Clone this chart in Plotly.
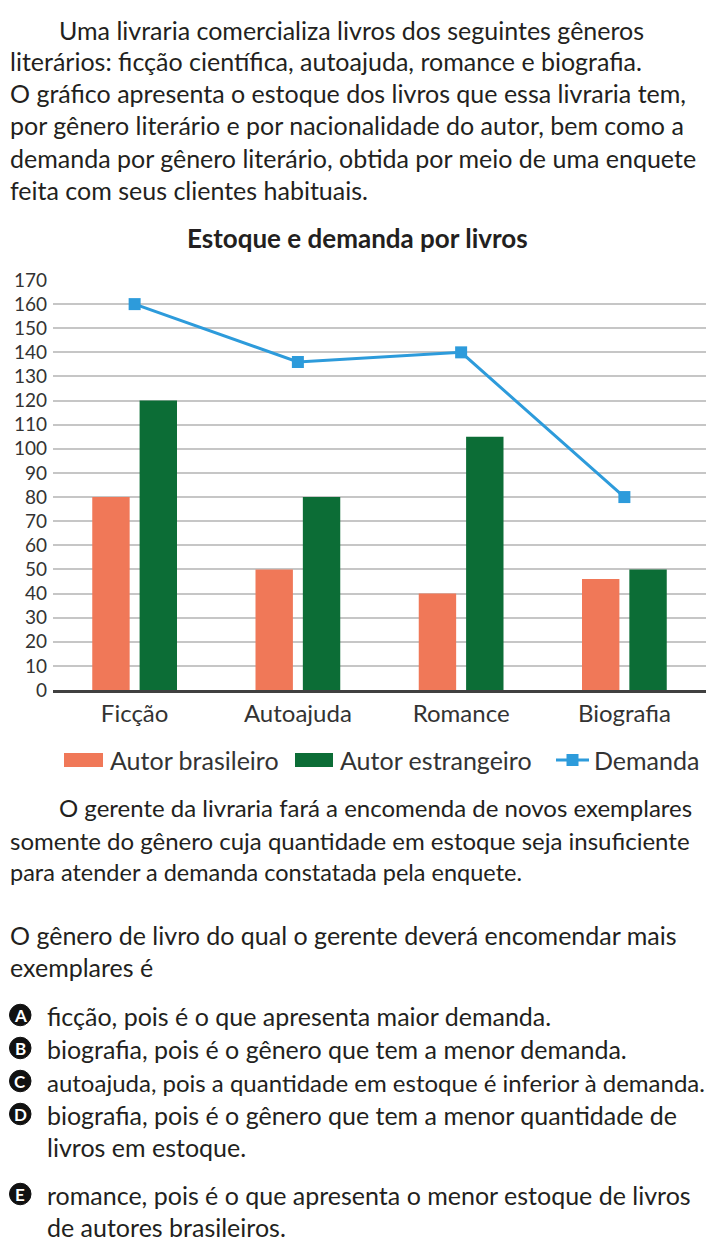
import plotly.graph_objects as go

# a página tem margem de 8px no body: a figura ocupa 8..706 x 8..1248
W, H = 698, 1240
OFF = 8

generos = ["Ficção", "Autoajuda", "Romance", "Biografia"]
autor_brasileiro = [80, 50, 40, 46]
autor_estrangeiro = [120, 80, 105, 50]
demanda = [160, 136, 140, 80]
y_ticks = list(range(0, 171, 10))

# (x, y, texto, tamanho da fonte)
texto = [
    (57, 30, "Uma livraria comercializa livros dos seguintes gêneros", 25),
    (8, 61, "literários: ficção científica, autoajuda, romance e biografia.", 25),
    (8, 93, "O gráfico apresenta o estoque dos livros que essa livraria tem,", 25),
    (8, 125, "por gênero literário e por nacionalidade do autor, bem como a", 25),
    (8, 158, "demanda por gênero literário, obtida por meio de uma enquete", 25),
    (8, 190, "feita com seus clientes habituais.", 25),
    (57, 807, "O gerente da livraria fará a encomenda de novos exemplares", 24),
    (8, 840, "somente do gênero cuja quantidade em estoque seja insuficiente", 24),
    (8, 872, "para atender a demanda constatada pela enquete.", 23.5),
    (8, 935, "O gênero de livro do qual o gerente deverá encomendar mais", 25),
    (8, 967, "exemplares é", 25),
]

opcoes = [
    ("A", 1016, ["ficção, pois é o que apresenta maior demanda."], 25),
    ("B", 1049, ["biografia, pois é o gênero que tem a menor demanda."], 25),
    ("C", 1082, ["autoajuda, pois a quantidade em estoque é inferior à demanda."], 24),
    ("D", 1115, ["biografia, pois é o gênero que tem a menor quantidade de",
                 "livros em estoque."], 25),
    ("E", 1195, ["romance, pois é o que apresenta o menor estoque de livros",
                 "de autores brasileiros."], 25),
]

FONT = "Lato"
TXT = "#231f20"
CINZA = "#333333"
C_BR = "#f07858"
C_EST = "#0c6d36"
C_DEM = "#2d9bdb"


def px(x):
    return (x - OFF) / W


def py(y):
    return 1 - (y - OFF) / H


def txt(x, y, t, size=25, anchor="left", color=TXT):
    return dict(x=px(x), y=py(y), xref="paper", yref="paper", text=t,
                showarrow=False, xanchor=anchor, yanchor="middle",
                font=dict(family=FONT, size=size, color=color))


fig = go.Figure()
fig.add_trace(go.Bar(x=generos, y=autor_brasileiro, name="Autor brasileiro",
                     marker_color=C_BR, marker_line_width=0))
fig.add_trace(go.Bar(x=generos, y=autor_estrangeiro, name="Autor estrangeiro",
                     marker_color=C_EST, marker_line_width=0))
fig.add_trace(go.Scatter(x=generos, y=demanda, name="Demanda", mode="lines+markers",
                         line=dict(color=C_DEM, width=3),
                         marker=dict(symbol="square", size=12, color=C_DEM)))

annotations = [txt(x, y, t, s) for x, y, t, s in texto]
annotations.append(txt(357, 238, "<b>Estoque e demanda por livros</b>", size=26,
                       anchor="center"))

shapes = []
for letra, y, linhas, s in opcoes:
    shapes.append(dict(type="circle", xref="paper", yref="paper", layer="below",
                       x0=px(9.5), x1=px(31), y0=py(y + 9.75), y1=py(y - 11.75),
                       fillcolor="#111111", line=dict(color="#111111", width=1)))
    annotations.append(txt(20.25, y - 1, "<b>%s</b>" % letra, size=17, anchor="center",
                           color="white"))
    for i, t in enumerate(linhas):
        annotations.append(txt(45, y + i * 32, t, s))

# legenda desenhada à mão (retângulos largos como no original)
legenda = [("rect", C_BR, 64, 103, 108, "Autor brasileiro"),
           ("rect", C_EST, 295, 333, 338, "Autor estrangeiro"),
           ("line", C_DEM, 556, 589, 592, "Demanda")]
for kind, cor, x0, x1, xt, nome in legenda:
    if kind == "rect":
        shapes.append(dict(type="rect", xref="paper", yref="paper",
                           x0=px(x0), x1=px(x1), y0=py(767), y1=py(753),
                           fillcolor=cor, line_width=0))
    else:
        shapes.append(dict(type="line", xref="paper", yref="paper",
                           x0=px(x0), x1=px(x1), y0=py(760), y1=py(760),
                           line=dict(color=cor, width=3)))
        xm = (x0 + x1) / 2
        shapes.append(dict(type="rect", xref="paper", yref="paper",
                           x0=px(xm - 6), x1=px(xm + 6), y0=py(766), y1=py(754),
                           fillcolor=cor, line_width=0))
    annotations.append(txt(xt, 760, nome, size=25, color=CINZA))

fig.update_layout(
    width=W, height=H,
    margin=dict(l=0, r=0, t=0, b=0, autoexpand=False),
    paper_bgcolor="white", plot_bgcolor="white",
    barmode="group", bargap=0.42, bargroupgap=0.21,
    font=dict(family=FONT, color=CINZA),
    showlegend=False,
    xaxis=dict(domain=[px(53), px(706)], showline=True, linecolor="#404040",
               linewidth=3, tickfont=dict(size=24, color=CINZA), ticks="",
               automargin=False),
    yaxis=dict(domain=[py(690), py(280)], range=[0, 170], tickvals=y_ticks,
               showgrid=True, gridcolor="#c6c6c6", gridwidth=2, zeroline=False,
               tickfont=dict(size=19, color=CINZA), ticks="", ticklabelstandoff=5,
               automargin=False),
    annotations=annotations,
    shapes=shapes,
)

fig.write_html("out.html")
